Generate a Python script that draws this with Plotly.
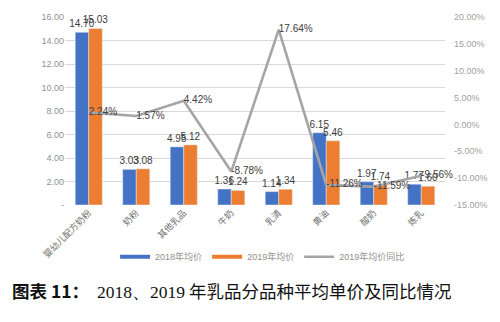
import plotly.graph_objects as go

categories = ["婴幼儿配方奶粉", "奶粉", "其他乳品", "牛奶", "乳清", "黄油", "酸奶", "炼乳"]
price_2018 = [14.70, 3.03, 4.95, 1.36, 1.14, 6.15, 1.97, 1.77]
price_2019 = [15.03, 3.08, 5.12, 1.24, 1.34, 5.46, 1.74, 1.60]
yoy_2019 = [2.24, 1.57, 4.42, -8.78, 17.64, -11.26, -11.59, -9.56]
left_ticks = [0, 2, 4, 6, 8, 10, 12, 14, 16]
left_ticktext = ["-", "2.00", "4.00", "6.00", "8.00", "10.00", "12.00", "14.00", "16.00"]
right_ticks = [-15, -10, -5, 0, 5, 10, 15, 20]

BLUE = "#4472C4"
ORANGE = "#ED7D31"
GRAY = "#A5A5A5"
FONT = "Liberation Sans, Noto Sans CJK SC, sans-serif"
LBL = dict(size=10, color="#404040", family=FONT)

fig = go.Figure()
fig.add_trace(go.Bar(x=categories, y=price_2018, name="2018年均价", marker_color=BLUE,
                     text=[f"{v:.2f}" for v in price_2018], textposition="outside",
                     constraintext="none", textangle=0,
                     textfont=LBL, cliponaxis=False, showlegend=False))
fig.add_trace(go.Bar(x=categories, y=price_2019, name="2019年均价", marker_color=ORANGE,
                     text=[f"{v:.2f}" for v in price_2019], textposition="outside",
                     constraintext="none", textangle=0,
                     textfont=LBL, cliponaxis=False, showlegend=False))
fig.add_trace(go.Scatter(x=categories, y=yoy_2019, yaxis="y2", mode="lines+text",
                         line=dict(color=GRAY, width=2.6), name="2019年均价同比",
                         text=[f"{v:.2f}%" for v in yoy_2019], textposition="middle right",
                         textfont=dict(size=10, color="#404040", family=FONT),
                         cliponaxis=False, showlegend=False))
# legend entries (line-style keys as in the reference)
for nm, col in [("2018年均价", BLUE), ("2019年均价", ORANGE), ("2019年均价同比", GRAY)]:
    fig.add_trace(go.Scatter(x=[None], y=[None], mode="lines", name=nm,
                             line=dict(color=col, width=4 if col != GRAY else 2.5)))

title = ('<b>图表 11：</b>  <span style="font-family:Liberation Serif">2018、2019</span> '
         '年乳品分品种平均单价及同比情况')

fig.update_layout(
    width=500, height=322,
    margin=dict(l=65, r=55, t=12, b=117),
    paper_bgcolor="white", plot_bgcolor="white",
    font=dict(family=FONT, size=9, color="#808080"),
    barmode="group", bargap=0.43, bargroupgap=0,
    xaxis=dict(tickangle=-45, tickfont=dict(size=9, color="#707070"), showline=False, ticks=""),
    yaxis=dict(range=[0, 16], tickvals=left_ticks, ticktext=left_ticktext,
               showgrid=True, gridcolor="#D9D9D9", gridwidth=1, zeroline=False,
               tickfont=dict(size=9, color="#909090")),
    yaxis2=dict(range=[-15, 20], tickvals=right_ticks,
                ticktext=[f"{v:.2f}%" for v in right_ticks],
                overlaying="y", side="right", showgrid=False, zeroline=False,
                ticklabelstandoff=8,
                tickfont=dict(size=9, color="#A0A0A0")),
    legend=dict(orientation="h", x=0.52, xanchor="center", y=-0.275, yanchor="middle",
                font=dict(size=9, color="#909090"), itemwidth=30, tracegroupgap=0),
    annotations=[dict(text=title,
                      xref="paper", yref="paper", x=-0.145, y=-0.456, xanchor="left", yanchor="middle",
                      showarrow=False, font=dict(family="Noto Sans CJK SC", size=17.5, color="#111111"))],
)
fig.write_html("out.html")
